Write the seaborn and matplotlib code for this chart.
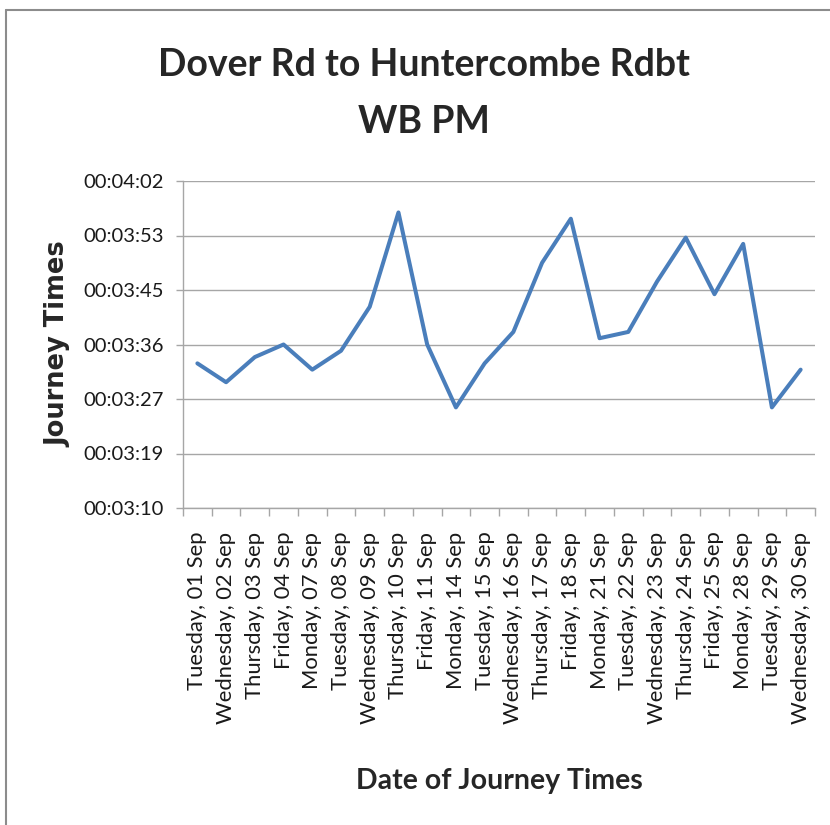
import matplotlib
import matplotlib.pyplot as plt
import numpy as np
import pandas as pd
import seaborn as sns
from matplotlib.lines import Line2D
from matplotlib.ticker import FuncFormatter, FixedLocator

matplotlib.use("Agg")

# journey dates (category labels) and journey times in seconds
dates = [
    "Tuesday, 01 Sep", "Wednesday, 02 Sep", "Thursday, 03 Sep", "Friday, 04 Sep",
    "Monday, 07 Sep", "Tuesday, 08 Sep", "Wednesday, 09 Sep", "Thursday, 10 Sep",
    "Friday, 11 Sep", "Monday, 14 Sep", "Tuesday, 15 Sep", "Wednesday, 16 Sep",
    "Thursday, 17 Sep", "Friday, 18 Sep", "Monday, 21 Sep", "Tuesday, 22 Sep",
    "Wednesday, 23 Sep", "Thursday, 24 Sep", "Friday, 25 Sep", "Monday, 28 Sep",
    "Tuesday, 29 Sep", "Wednesday, 30 Sep",
]
journey_secs = [
    213, 210, 214, 216, 212, 215, 222, 237, 216, 206, 213,
    218, 229, 236, 217, 218, 226, 233, 224, 232, 206, 212,
]
y_min, y_max = 190, 242

FONT = ["Lato", "DejaVu Sans"]
LINE_BLUE = "#4A7EBB"
GRID_GREY = "#A6A6A6"

df = pd.DataFrame({"date": dates, "secs": journey_secs})

sns.set_theme(style="white")
plt.rcParams["font.family"] = FONT

fig = plt.figure(figsize=(8.3, 8.25), dpi=100)
ax = fig.add_axes([183 / 830, 1 - 508 / 825, 632 / 830, 327 / 825])

sns.lineplot(data=df, x="date", y="secs", ax=ax, sort=False,
             color=LINE_BLUE, linewidth=2.9, zorder=3)

ax.set_xlim(-0.5, len(dates) - 0.5)
ax.set_ylim(y_min, y_max)

yticks = np.linspace(y_min, y_max, 7)
ax.yaxis.set_major_locator(FixedLocator(yticks))


def fmt_time(v, _pos):
    s = int(round(v))
    return f"{s // 3600:02d}:{(s % 3600) // 60:02d}:{s % 60:02d}"


ax.yaxis.set_major_formatter(FuncFormatter(fmt_time))
ax.grid(axis="y", color=GRID_GREY, linewidth=1.0)
ax.grid(axis="x", visible=False)

ax.set_xticks(range(len(dates)))
ax.set_xticklabels(dates, rotation=90, fontsize=15.8, va="top", ha="center")
ax.set_xticks(np.arange(-0.5, len(dates), 1.0), minor=True)
ax.tick_params(axis="x", which="major", length=0, pad=17)
ax.tick_params(axis="x", which="minor", length=6, width=1, color=GRID_GREY,
               direction="out", bottom=True)
ax.tick_params(axis="y", which="major", length=5, width=1, color=GRID_GREY,
               direction="out", left=True, labelsize=14.5, pad=9)
for lbl in ax.get_yticklabels() + ax.get_xticklabels():
    lbl.set_color("#1a1a1a")

ax.set_xlabel("")
ax.set_ylabel("")
for side in ["top", "right"]:
    ax.spines[side].set_visible(False)
for side in ["left", "bottom"]:
    ax.spines[side].set_color(GRID_GREY)
    ax.spines[side].set_linewidth(1.0)

fig.text(0.511, 1 - 76 / 825, "Dover Rd to Huntercombe Rdbt", ha="center", va="baseline",
         fontsize=27, fontweight="bold", family=FONT)
fig.text(0.511, 1 - 133 / 825, "WB PM", ha="center", va="baseline",
         fontsize=27, fontweight="bold", family=FONT)
fig.text(58 / 830, 1 - 344 / 825, "Journey Times", rotation=90, ha="center", va="center",
         fontsize=18.5, fontweight="bold", family=["DejaVu Sans"])
fig.text(499 / 830, 1 - 789 / 825, "Date of Journey Times", ha="center", va="baseline",
         fontsize=20.5, fontweight="bold", family=FONT)

# chart frame (top and left edges visible in the crop)
fig.add_artist(Line2D([6 / 830, 6 / 830], [0, 1 - 10 / 825], transform=fig.transFigure,
                      color="#8C8C8C", linewidth=1.5))
fig.add_artist(Line2D([6 / 830, 1], [1 - 10 / 825, 1 - 10 / 825], transform=fig.transFigure,
                      color="#8C8C8C", linewidth=1.5))

fig.savefig("out.png", dpi=100)
plt.close(fig)
